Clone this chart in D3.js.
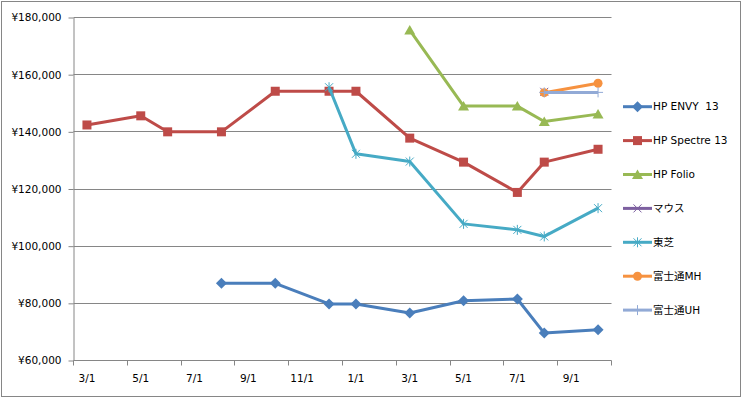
<!DOCTYPE html>
<html>
<head>
<meta charset="utf-8">
<script src="https://cdn.jsdelivr.net/npm/d3@7"></script>
<style>
  html, body { margin: 0; padding: 0; background: #fff; }
  text { font-family: "DejaVu Sans", "Noto Sans CJK JP", sans-serif; fill: #000; }
</style>
</head>
<body>
<script>
// month bins of the date axis (base unit = month)
var months = ["2013-03", "2013-04", "2013-05", "2013-06", "2013-07", "2013-08", "2013-09",
              "2013-10", "2013-11", "2013-12", "2014-01", "2014-02", "2014-03", "2014-04",
              "2014-05", "2014-06", "2014-07", "2014-08", "2014-09", "2014-10"];
var xTickLabels = ["3/1", "5/1", "7/1", "9/1", "11/1", "1/1", "3/1", "5/1", "7/1", "9/1"];
var yTicks = [60000, 80000, 100000, 120000, 140000, 160000, 180000];

var seriesNames = ["HP ENVY  13", "HP Spectre 13", "HP Folio", "マウス", "東芝", "富士通MH", "富士通UH"];
var seriesColors = ["#4A7EBB", "#BE4B48", "#98B954", "#7D60A0", "#46AAC5", "#F69240", "#92AAD6"];
var seriesMarkers = ["diamond", "square", "triangle", "x", "star", "circle", "plus"];

var envy    = [["2013-08", 87000], ["2013-10", 87000], ["2013-12", 79800], ["2014-01", 79800],
               ["2014-03", 76600], ["2014-05", 80900], ["2014-07", 81500], ["2014-08", 69600],
               ["2014-10", 70800]];
var spectre = [["2013-03", 142400], ["2013-05", 145600], ["2013-06", 140000], ["2013-08", 140000],
               ["2013-10", 154200], ["2013-12", 154200], ["2014-01", 154200], ["2014-03", 137800],
               ["2014-05", 129400], ["2014-07", 118800], ["2014-08", 129400], ["2014-10", 133900]];
var folio   = [["2014-03", 175600], ["2014-05", 149000], ["2014-07", 149000], ["2014-08", 143600],
               ["2014-10", 146200]];
var mouse   = [["2014-08", 154000]];
var toshiba = [["2013-12", 155600], ["2014-01", 132300], ["2014-03", 129600], ["2014-05", 107800],
               ["2014-07", 105700], ["2014-08", 103400], ["2014-10", 113300]];
var fujiMH  = [["2014-08", 153700], ["2014-10", 157000]];
var fujiUH  = [["2014-08", 153800], ["2014-10", 153800]];
var seriesData = [envy, spectre, folio, mouse, toshiba, fujiMH, fujiUH];

var W = 743, H = 399;
var plot = {left: 73.5, right: 611.5, top: 17.5, bottom: 360.5};

var svg = d3.select("body").append("svg")
    .attr("width", W)
    .attr("height", H);

// chart border
svg.append("rect")
    .attr("x", 1.5).attr("y", 1.5)
    .attr("width", 739).attr("height", 395)
    .attr("fill", "#fff")
    .attr("stroke", "#868686");

var x = d3.scaleBand().domain(months).range([plot.left, plot.right]).padding(0);
var y = d3.scaleLinear().domain([60000, 180000]).range([plot.bottom, plot.top]);
var px = function(m) { return x(m) + x.bandwidth() / 2; };
var py = function(v) { return y(v); };

// gridlines
svg.append("g").attr("class", "grid")
    .selectAll("line")
    .data(yTicks.slice(1))
    .enter().append("line")
        .attr("x1", plot.left).attr("x2", plot.right)
        .attr("y1", function(d) { return Math.round(y(d) - 0.5) + 0.5; })
        .attr("y2", function(d) { return Math.round(y(d) - 0.5) + 0.5; })
        .attr("stroke", "#868686");

// y axis
var yAxis = svg.append("g")
    .attr("transform", "translate(" + plot.left + ",0)")
    .call(d3.axisLeft(y).tickValues(yTicks).tickSize(5).tickSizeOuter(0).tickPadding(7)
        .tickFormat(function(d) { return "¥" + d3.format(",")(d); }));
yAxis.select(".domain").attr("stroke", "#868686");
yAxis.selectAll(".tick line").attr("stroke", "#868686");
yAxis.selectAll(".tick text").style("font-size", "10.5px").attr("fill", "#000");
yAxis.attr("font-family", null);

// x axis (ticks at bin edges, labels at bin centres)
var xAxis = svg.append("g").attr("class", "x-axis");
xAxis.append("line")
    .attr("x1", plot.left).attr("x2", plot.right)
    .attr("y1", plot.bottom).attr("y2", plot.bottom)
    .attr("stroke", "#868686");
var tickMonths = months.filter(function(d, i) { return i % 2 === 0; });
var tickEdges = tickMonths.map(function(m) { return x(m); }).concat([plot.right]);
xAxis.selectAll(".xtick")
    .data(tickEdges)
    .enter().append("line")
        .attr("class", "xtick")
        .attr("x1", function(d) { return Math.round(d - 0.5) + 0.5; })
        .attr("x2", function(d) { return Math.round(d - 0.5) + 0.5; })
        .attr("y1", plot.bottom).attr("y2", plot.bottom + 5)
        .attr("stroke", "#868686");
xAxis.selectAll(".xlabel")
    .data(tickMonths)
    .enter().append("text")
        .attr("class", "xlabel")
        .attr("x", function(d) { return px(d); })
        .attr("y", 378)
        .attr("dy", "0.35em")
        .attr("text-anchor", "middle")
        .style("font-size", "10.5px")
        .text(function(d, i) { return xTickLabels[i]; });

// marker drawing
function drawMarker(g, type, color) {
    if (type === "diamond") {
        g.append("path").attr("d", "M0,-5.5L5.5,0L0,5.5L-5.5,0Z").attr("fill", color);
    } else if (type === "square") {
        g.append("rect").attr("x", -4.5).attr("y", -4.5).attr("width", 9).attr("height", 9).attr("fill", color);
    } else if (type === "triangle") {
        g.append("path").attr("d", "M0,-5L5.5,4.5L-5.5,4.5Z").attr("fill", color);
    } else if (type === "circle") {
        g.append("circle").attr("r", 4.5).attr("fill", color);
    } else if (type === "x") {
        g.append("path").attr("d", "M-4,-4L4,4M4,-4L-4,4").attr("stroke", color).attr("stroke-width", 1).attr("fill", "none");
    } else if (type === "star") {
        g.append("path").attr("d", "M-4,-4L4,4M4,-4L-4,4M0,-5L0,5").attr("stroke", color).attr("stroke-width", 1).attr("fill", "none");
    } else if (type === "plus") {
        g.append("path").attr("d", "M-5,0L5,0M0,-5L0,5").attr("stroke", color).attr("stroke-width", 1).attr("fill", "none");
    }
}

var line = d3.line()
    .x(function(d) { return px(d[0]); })
    .y(function(d) { return py(d[1]); });

// series
var series = svg.append("g").attr("class", "series")
    .selectAll("g")
    .data(seriesData)
    .enter().append("g");
series.append("path")
    .attr("d", line)
    .attr("fill", "none")
    .attr("stroke", function(d, i) { return seriesColors[i]; })
    .attr("stroke-width", 3)
    .attr("stroke-linejoin", "round");
series.each(function(d, i) {
    d3.select(this).selectAll(".marker")
        .data(d)
        .enter().append("g")
            .attr("class", "marker")
            .attr("transform", function(p) { return "translate(" + px(p[0]) + "," + py(p[1]) + ")"; })
            .each(function() { drawMarker(d3.select(this), seriesMarkers[i], seriesColors[i]); });
});

// legend
var legend = svg.append("g").attr("class", "legend")
    .selectAll("g")
    .data(seriesNames)
    .enter().append("g")
        .attr("transform", function(d, i) { return "translate(623," + (106.7 + i * 33.9) + ")"; });
legend.append("line")
    .attr("x1", 0).attr("x2", 29)
    .attr("stroke", function(d, i) { return seriesColors[i]; })
    .attr("stroke-width", 3);
legend.append("g")
    .attr("transform", "translate(14.5,0)")
    .each(function(d, i) { drawMarker(d3.select(this), seriesMarkers[i], seriesColors[i]); });
legend.append("text")
    .attr("x", 30)
    .attr("dy", "0.35em")
    .style("font-size", "10.5px")
    .style("white-space", "pre")
    .text(function(d) { return d; });
</script>
</body>
</html>
